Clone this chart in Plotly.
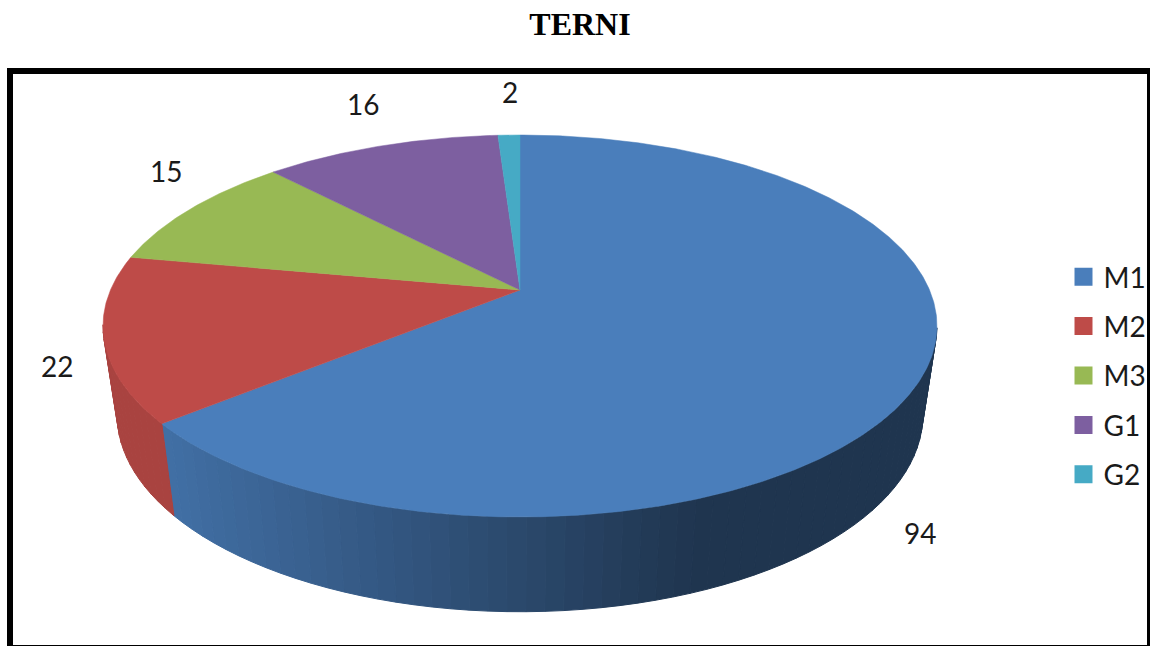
import numpy as np
import plotly.graph_objects as go

TITLE = "TERNI"
CATEGORIES = ["M1", "M2", "M3", "G1", "G2"]
VALUES = [94, 22, 15, 16, 2]
COLORS = ["#4a7ebb", "#be4b48", "#98b954", "#7d5fa0", "#46aac5"]
# pixel shift of each value label away from its slice's outer rim
LABEL_SHIFTS = [(-3, 158), (-47, 27), (-24, -38), (-18, -42), (1, -43)]

W, H = 1150, 646
CX, CY, A, B = 520.0, 326.0, 417.0, 191.0
APEX_DY = 36.0
K = APEX_DY * 2 / (2 * B)
A0 = A * np.sqrt(1 - K ** 2)
WALL_SCALE_X, WALL_SCALE_Y, WALL_DROP = 0.966, 1.03, 89.0
# small calibration of the 3-D view's angular distortion
WARP_AT = [0, 227, 280, 316, 355, 360]
WARP_BY = [0, 3.2, 0.3, 0.2, 1.2, 0]


def rim(deg):
    deg = np.asarray(deg, dtype=float)
    t = np.radians(deg + np.interp(deg, WARP_AT, WARP_BY))
    u, v = np.sin(t), np.cos(t)
    d = 1 + K * v
    return A0 * u / d, (B * v + APEX_DY) / d


def top_xy(deg):
    x, y = rim(deg)
    return CX + x, CY - y


def bottom_xy(deg):
    x, y = rim(deg)
    return CX + x * WALL_SCALE_X, CY + WALL_DROP - y * WALL_SCALE_Y


def shade(hex_color, f):
    r, g, b = [int(hex_color[i:i + 2], 16) for i in (1, 3, 5)]
    return f"rgb({r * f:.0f},{g * f:.0f},{b * f:.0f})"


total = sum(VALUES)
edges = np.cumsum([0] + VALUES) / total * 360.0
fig = go.Figure()

# side wall: visible part of the rim, cut into shaded strips
WALL_FROM, WALL_TO = 100.0, 258.0
strip_edges = np.unique(np.r_[np.linspace(WALL_FROM, WALL_TO, 73), edges[1]])
for a0, a1 in zip(strip_edges[:-1], strip_edges[1:]):
    mid = (a0 + a1) / 2
    i = int(np.searchsorted(edges, mid, side="right") - 1)
    ts = np.linspace(a0, a1, 4)
    xt, yt = top_xy(ts)
    xb, yb = bottom_xy(ts[::-1])
    xm = float(top_xy(mid)[0])
    if i == 0:
        f = 0.88 - (0.88 - 0.42) * np.clip((xm - 165) / (700 - 165), 0, 1)
    else:
        f = 0.89
    c = shade(COLORS[i], f)
    fig.add_trace(go.Scatter(
        x=np.r_[xt, xb, xt[0]], y=np.r_[yt, yb, yt[0]], mode="lines",
        fill="toself", fillcolor=c, line=dict(color=c, width=1),
        showlegend=False, hoverinfo="skip"))

# top face of every slice
for i, name in enumerate(CATEGORIES):
    ts = np.linspace(edges[i], edges[i + 1], max(int(edges[i + 1] - edges[i]) * 2, 8))
    xs, ys = top_xy(ts)
    fig.add_trace(go.Scatter(
        x=np.r_[CX, xs, CX], y=np.r_[CY - APEX_DY, ys, CY - APEX_DY], mode="lines",
        fill="toself", fillcolor=COLORS[i], line=dict(color=COLORS[i], width=0.5),
        showlegend=False, hoverinfo="skip", name=name))

# legend
for i, name in enumerate(CATEGORIES):
    fig.add_trace(go.Scatter(
        x=[None], y=[None], mode="markers", name=name, legendgroup=name,
        marker=dict(symbol="square", size=16, color=COLORS[i],
                    line=dict(color=COLORS[i], width=2))))

# value labels
for i, v in enumerate(VALUES):
    x, y = top_xy((edges[i] + edges[i + 1]) / 2)
    fig.add_annotation(x=float(x), y=float(y), text=str(v), showarrow=False,
                       xshift=LABEL_SHIFTS[i][0], yshift=-LABEL_SHIFTS[i][1],
                       font=dict(family="Lato", size=28, color="#1a1a1a"))

fig.update_layout(
    width=W, height=H, autosize=False,
    margin=dict(l=0, r=0, t=0, b=0, autoexpand=False),
    paper_bgcolor="white", plot_bgcolor="white",
    title=dict(text=f"<b>{TITLE}</b>", x=580 / W, xanchor="center",
               y=1 - 24 / H, yanchor="middle",
               font=dict(family="Liberation Serif", size=32, color="black")),
    xaxis=dict(range=[0, W], visible=False, fixedrange=True),
    yaxis=dict(range=[H, 0], visible=False, fixedrange=True),
    legend=dict(x=1063.5 / W, xanchor="left", y=1 - 252 / H, yanchor="top",
                tracegroupgap=10, font=dict(family="Lato", size=28, color="#1a1a1a"),
                bgcolor="rgba(0,0,0,0)", itemclick=False, itemdoubleclick=False),
    shapes=[
        dict(type="rect", layer="below", x0=7, x1=1150, y0=68, y1=646,
             fillcolor="black", line=dict(width=0)),
        dict(type="rect", layer="below", x0=13, x1=1147, y0=74, y1=645,
             fillcolor="white", line=dict(width=0)),
    ],
)

fig.write_html("out.html", config={"displayModeBar": False},
               post_script="document.body.style.margin='0';document.body.style.overflow='hidden';")
